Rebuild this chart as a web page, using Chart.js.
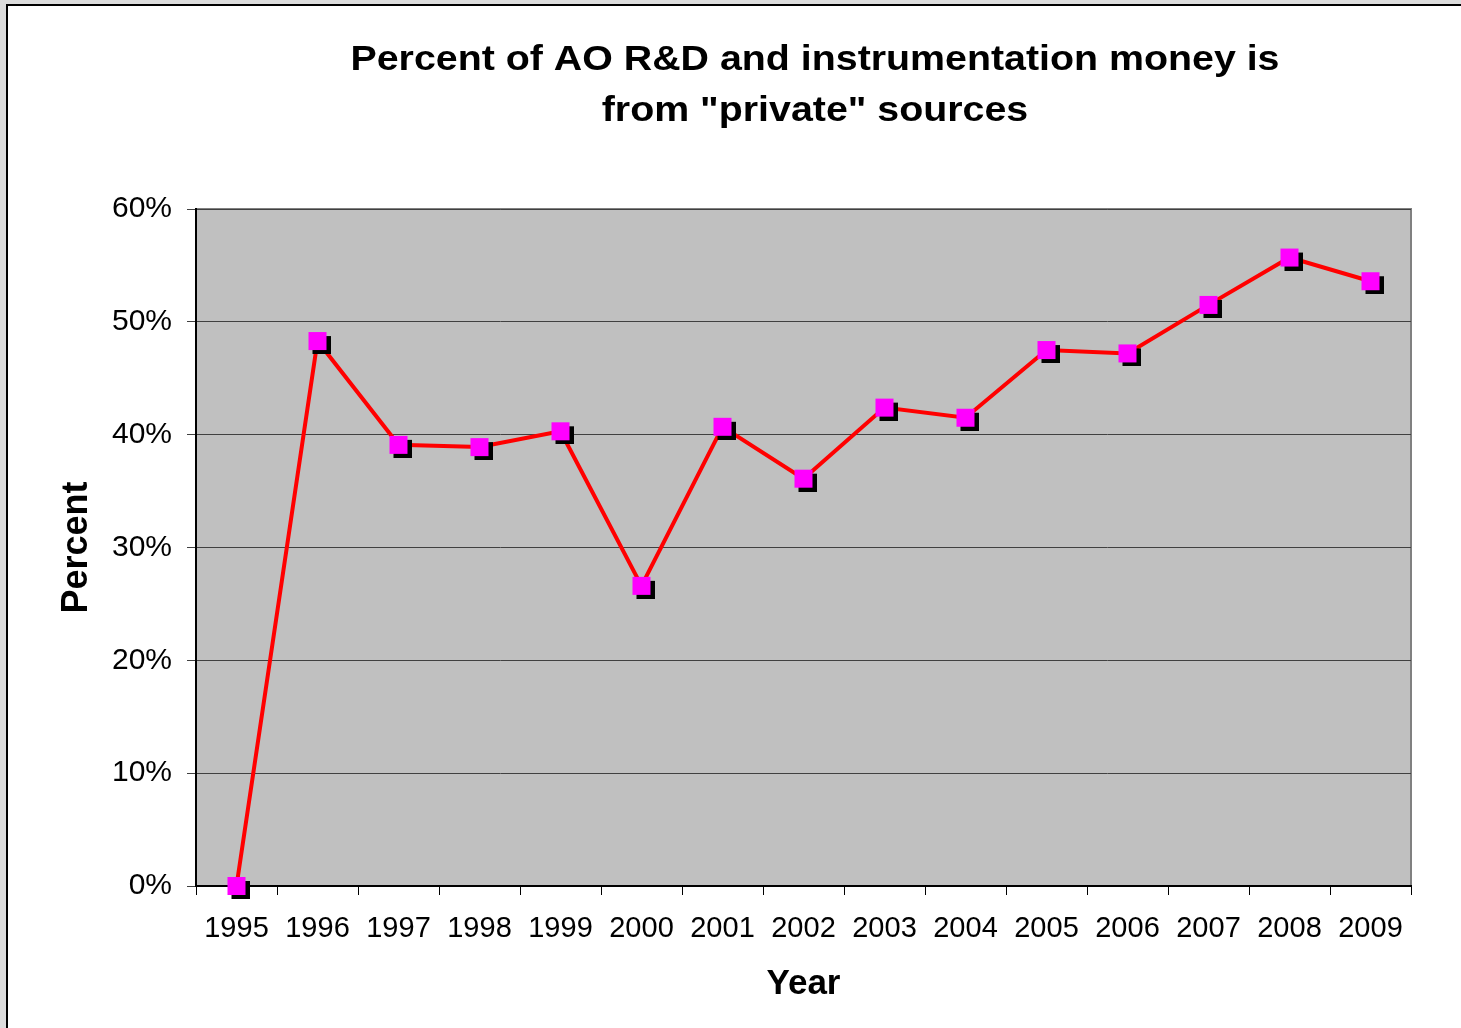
<!DOCTYPE html>
<html>
<head>
<meta charset="utf-8">
<script src="https://cdn.jsdelivr.net/npm/chart.js@4.4.1/dist/chart.umd.min.js"></script>
<style>
  html, body { margin: 0; padding: 0; width: 1461px; height: 1028px; overflow: hidden; background: #dcdcdc; }
  #page { position: absolute; left: 6px; top: 4px; width: 1500px; height: 1100px; border: 2px solid #000; background: #fff; }
  #wrap { position: absolute; left: 0; top: 0; width: 1461px; height: 1028px; }
</style>
</head>
<body>
<div id="page"></div>
<div id="wrap"><canvas id="c" width="1461" height="1028"></canvas></div>
<script>
const years = ['1995','1996','1997','1998','1999','2000','2001','2002','2003','2004','2005','2006','2007','2008','2009'];
const privateShare = [0.0, 48.3, 39.1, 38.9, 40.3, 26.6, 40.7, 36.1, 42.4, 41.5, 47.5, 47.2, 51.5, 55.7, 53.6];
const yTicks = [0, 10, 20, 30, 40, 50, 60];
const titleLines = ['Percent of AO R&D and instrumentation money is', 'from "private" sources'];

const FONT = "'Liberation Sans', Arial, sans-serif";

// marker image: magenta square with black drop shadow
const mk = document.createElement('canvas');
mk.width = 26; mk.height = 26;
const mctx = mk.getContext('2d');
mctx.fillStyle = '#000000';
mctx.fillRect(8, 8, 18, 18);
mctx.fillStyle = '#ff00ff';
mctx.fillRect(4, 4, 18, 18);

const plotBg = {
  id: 'plotBg',
  beforeDraw(chart) {
    const a = chart.chartArea, ctx = chart.ctx;
    ctx.save();
    ctx.fillStyle = '#c0c0c0';
    ctx.fillRect(a.left, a.top, a.right - a.left, a.bottom - a.top);
    ctx.strokeStyle = '#808080';
    ctx.lineWidth = 2;
    ctx.beginPath();
    ctx.moveTo(a.left, a.top);
    ctx.lineTo(a.right, a.top);
    ctx.lineTo(a.right, a.bottom);
    ctx.stroke();
    ctx.restore();
  }
};

// Two-line chart title, drawn as text (wide Excel-like rendering)
const wideTitle = {
  id: 'wideTitle',
  afterDraw(chart) {
    const ctx = chart.ctx;
    ctx.save();
    ctx.font = "bold 35px " + FONT;
    ctx.fillStyle = '#000';
    ctx.textAlign = 'center';
    ctx.textBaseline = 'alphabetic';
    const w0 = ctx.measureText(titleLines[0]).width;
    const sx = 929 / w0;
    const cx = 815;
    const baselines = [70, 121];
    titleLines.forEach((t, i) => {
      ctx.save();
      ctx.translate(cx, baselines[i]);
      ctx.scale(sx, 1);
      ctx.fillText(t, 0, 0);
      ctx.restore();
    });
    ctx.restore();
  }
};

new Chart(document.getElementById('c'), {
  type: 'line',
  data: {
    labels: years,
    datasets: [{
      data: privateShare,
      borderColor: '#ff0000',
      borderWidth: 4,
      tension: 0,
      pointStyle: mk,
      pointRadius: 9,
      pointHoverRadius: 9,
      fill: false,
      clip: false
    }]
  },
  options: {
    responsive: false,
    animation: false,
    events: [],
    layout: { padding: { left: 55, right: 50, top: 209, bottom: 23 } },
    plugins: {
      legend: { display: false },
      tooltip: { enabled: false },
      title: { display: false }
    },
    scales: {
      x: {
        type: 'category',
        offset: true,
        grid: { offset: true, drawOnChartArea: false, drawTicks: true, tickLength: 9, color: '#000', lineWidth: 1 },
        border: { display: true, color: '#000', width: 2 },
        ticks: { color: '#000', font: { family: FONT, size: 29 }, padding: 17, maxRotation: 0, autoSkip: false },
        title: { display: true, text: 'Year', color: '#000', font: { family: FONT, size: 35, weight: 'bold' }, padding: 0 },
        afterFit(s) { s.height = 119; }
      },
      y: {
        min: 0, max: 60,
        afterBuildTicks(s) { s.ticks = yTicks.map(v => ({ value: v })); },
        grid: { color: '#404040', lineWidth: 1, tickLength: 9, drawTicks: true },
        border: { display: true, color: '#000', width: 2 },
        ticks: { color: '#000', font: { family: FONT, size: 30 }, padding: 15, callback: v => v + '%' },
        title: { display: true, text: 'Percent', color: '#000', font: { family: FONT, size: 36, weight: 'bold' }, padding: 0 },
        afterFit(s) { s.width = 141; }
      }
    }
  },
  plugins: [plotBg, wideTitle]
});
</script>
</body>
</html>
